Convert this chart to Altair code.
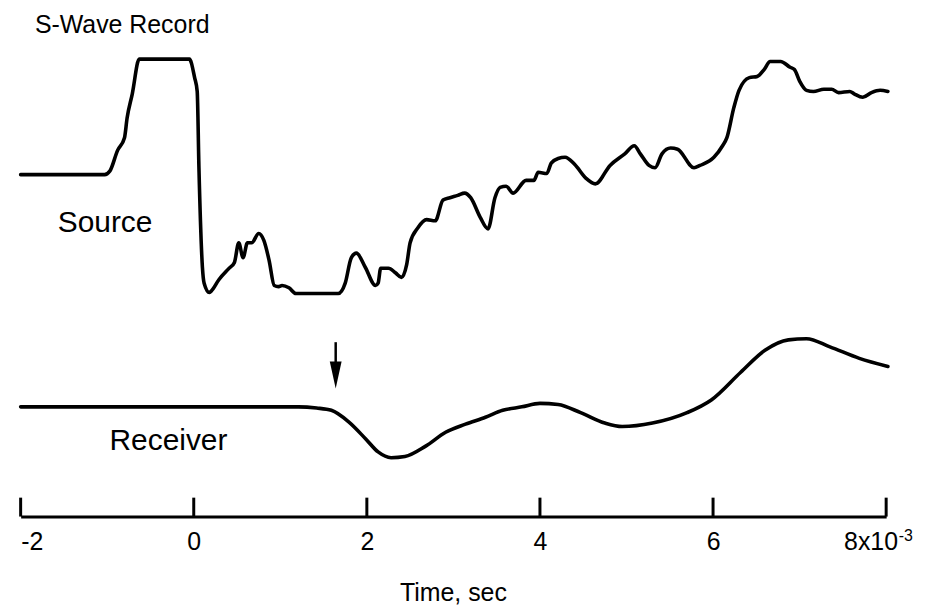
import altair as alt
import pandas as pd

# ---- data (time in 1e-3 s, amplitude in arbitrary units) ----
source_t = [-2.00, -1.03, -0.97, -0.88, -0.80, -0.77, -0.71, -0.63, -0.05, 0.01, 0.04, 0.06, 0.10,
            0.12, 0.18, 0.20, 0.29, 0.41, 0.47, 0.52, 0.57, 0.62, 0.67, 0.75, 0.81, 0.87, 0.93,
            0.98, 1.02, 1.10, 1.18, 1.67, 1.75, 1.82, 1.88, 1.98, 2.10, 2.13, 2.16, 2.25, 2.33,
            2.40, 2.46, 2.50, 2.59, 2.69, 2.79, 2.88, 2.96, 3.05, 3.13, 3.20, 3.31, 3.40, 3.48,
            3.54, 3.61, 3.69, 3.84, 3.93, 3.98, 4.08, 4.13, 4.21, 4.29, 4.40, 4.53, 4.64, 4.81,
            4.98, 5.09, 5.16, 5.26, 5.33, 5.41, 5.51, 5.59, 5.78, 5.85, 6.01, 6.11, 6.16, 6.24,
            6.30, 6.42, 6.51, 6.59, 6.66, 6.78, 6.89, 6.94, 7.00, 7.08, 7.16, 7.28, 7.37, 7.45,
            7.58, 7.63, 7.73, 7.83, 7.93, 8.02]
source_amp = [0.00, 0.00, 0.03, 0.21, 0.32, 0.49, 0.70, 1.00, 1.00, 0.84, 0.72, 0.06, -0.80,
              -0.94, -1.02, -1.01, -0.91, -0.81, -0.76, -0.59, -0.72, -0.59, -0.59, -0.51, -0.57, -0.74, -0.96,
              -0.97, -0.96, -0.98, -1.03, -1.03, -0.94, -0.72, -0.68, -0.80, -0.96, -0.94, -0.81, -0.81, -0.85,
              -0.89, -0.78, -0.59, -0.46, -0.39, -0.40, -0.22, -0.20, -0.18, -0.16, -0.20, -0.37, -0.47, -0.20,
              -0.11, -0.10, -0.16, -0.05, -0.05, 0.02, 0.01, 0.10, 0.14, 0.15, 0.09, -0.03, -0.08, 0.08,
              0.18, 0.25, 0.18, 0.08, 0.06, 0.18, 0.23, 0.22, 0.06, 0.08, 0.15, 0.25, 0.32, 0.58,
              0.73, 0.84, 0.85, 0.91, 0.98, 0.98, 0.93, 0.91, 0.81, 0.73, 0.72, 0.74, 0.74, 0.71,
              0.72, 0.70, 0.67, 0.71, 0.73, 0.72]

receiver_t = [-2.00, 1.21, 1.42, 1.59, 1.79, 1.99, 2.13, 2.28, 2.44, 2.68, 2.91, 3.14, 3.37, 3.57,
              3.79, 4.00, 4.21, 4.47, 4.75, 4.95, 5.30, 5.70, 5.98, 6.32, 6.60, 6.87, 7.08, 7.35,
              7.69, 8.02]
receiver_amp = [0.00, 0.00, -0.01, -0.03, -0.13, -0.28, -0.39, -0.44, -0.43, -0.34, -0.22, -0.15, -0.09, -0.03,
                0.00, 0.03, 0.02, -0.05, -0.14, -0.17, -0.14, -0.05, 0.06, 0.30, 0.49, 0.58, 0.59, 0.52,
                0.42, 0.35]

tick_values = [-2, 0, 2, 4, 6, 8]
arrow_t = [1.64]          # picked arrival time
arrow_top_amp = [0.56]    # above the receiver trace
arrow_tip_amp = [0.16]

# ---- layout (not data) ----
W, H = 869.4, 509.5
UNIT = 116.0
Y_MAX = H / UNIT
SRC_OFF = 2.961
RCV_OFF = 0.950
FONT = "Liberation Sans"
HEAD_H = 27.0

src = pd.DataFrame({"t": source_t, "y": [a + SRC_OFF for a in source_amp]})
rcv = pd.DataFrame({"t": receiver_t, "y": [a + RCV_OFF for a in receiver_amp]})
ticks = pd.DataFrame({"t": tick_values})
arrow = pd.DataFrame({
    "t": arrow_t,
    "y1": [a + RCV_OFF for a in arrow_top_amp],
    "yh": [a + RCV_OFF + (HEAD_H / 2) / UNIT for a in arrow_tip_amp],
})

xscale = alt.Scale(domain=[-2, 8], nice=False, zero=False)
yscale = alt.Scale(domain=[0, Y_MAX], nice=False, zero=False)
xaxis = alt.Axis(values=tick_values, ticks=False, tickSize=0, grid=False, title=None,
                 domainColor="black", domainWidth=3,
                 labelFont=FONT, labelFontSize=25, labelColor="black",
                 labelBaseline="alphabetic", labelPadding=33.5,
                 labelExpr="datum.value == 8 ? '' : toString(datum.value)")

X = alt.X("t:Q", scale=xscale, axis=xaxis)
Y = lambda f: alt.Y(f, scale=yscale, axis=None)

src_line = alt.Chart(src).mark_line(color="black", strokeWidth=3.6, strokeJoin="round",
                                    interpolate="monotone", strokeCap="round").encode(x=X, y=Y("y:Q"))
rcv_line = alt.Chart(rcv).mark_line(color="black", strokeWidth=3.6, interpolate="monotone",
                                    strokeCap="round").encode(x=X, y=Y("y:Q"))
tick_rules = alt.Chart(ticks).mark_rule(color="black", strokeWidth=3).encode(
    x=X, y=alt.value(H), y2=alt.value(H - 19))
stem = alt.Chart(arrow).mark_rule(color="black", strokeWidth=2.5).encode(
    x=X, y=Y("y1:Q"), y2="yh:Q")
head = alt.Chart(arrow).mark_point(shape="M-0.44,-1L0.44,-1L0,1Z", filled=True, opacity=1,
                                   color="black", size=HEAD_H * HEAD_H, strokeWidth=0).encode(
    x=X, y=Y("yh:Q"))


def label(text, x, y, size, align="left"):
    return alt.Chart(pd.DataFrame({"a": [0]})).mark_text(
        text=text, font=FONT, fontSize=size, color="black", align=align, baseline="alphabetic"
    ).encode(x=alt.value(x), y=alt.value(y))


texts = [
    label("S-Wave Record", 14.3, 24, 25),
    label("Source", 37.3, 224, 30),
    label("Receiver", 89.3, 442.7, 30),
    label("8x10", 881.3, 543, 25, "right"),
    label("-3", 882.0, 534, 16),
    label("Time, sec", W / 2, 594, 25, "center"),
]

chart = alt.layer(src_line, rcv_line, tick_rules, stem, head, *texts).properties(
    width=W, height=H, autosize="none",
    padding={"left": 12.7, "top": 0, "right": 35, "bottom": 93},
    background="white",
).configure_view(stroke=None)

chart.save("out.html", embed_options={"renderer": "svg", "actions": False})
